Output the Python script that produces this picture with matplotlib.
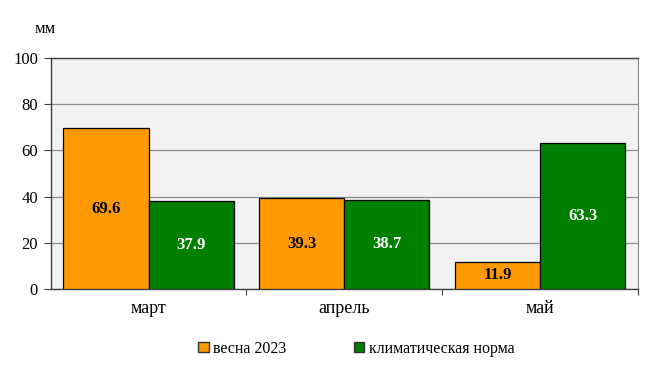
import numpy as np
import matplotlib.pyplot as plt
from matplotlib.patches import Patch

months = ['март', 'апрель', 'май']
spring_2023 = [69.6, 39.3, 11.9]
norm = [37.9, 38.7, 63.3]
yticks = [0, 20, 40, 60, 80, 100]

plt.rcParams['font.family'] = ['Liberation Serif', 'DejaVu Serif']

fig = plt.figure(figsize=(6.49, 3.71), dpi=100)
ax = fig.add_axes([0.078, 0.221, 0.905, 0.6227])
ax.set_facecolor('#F2F2F2')

x = np.arange(len(months))
w = 0.435
orange = '#FF9900'
green = '#008000'

b1 = ax.bar(x - w / 2, spring_2023, w, color=orange, edgecolor='black', linewidth=0.9, zorder=3)
b2 = ax.bar(x + w / 2, norm, w, color=green, edgecolor='black', linewidth=0.9, zorder=3)

for rect, v in zip(b1, spring_2023):
    ax.text(rect.get_x() + rect.get_width() / 2, v / 2, f'{v:.1f}', ha='center', va='center',
            fontsize=12, fontweight='bold', color='black', zorder=4)
for rect, v in zip(b2, norm):
    ax.text(rect.get_x() + rect.get_width() / 2, v / 2, f'{v:.1f}', ha='center', va='center',
            fontsize=12, fontweight='bold', color='white', zorder=4)

ax.set_xlim(-0.5, 2.5)
ax.set_ylim(0, 100)
ax.set_yticks(yticks)
ax.set_yticklabels([str(t) for t in yticks], fontsize=12)
ax.yaxis.grid(True, color='#8C8C8C', linewidth=0.9, zorder=1)
ax.tick_params(axis='y', length=5, width=0.8, color='#404040', pad=4)

ax.set_xticks(x)
ax.set_xticklabels(months, fontsize=13)
ax.tick_params(axis='x', length=0, pad=8)
ax.set_xticks([0.5, 1.5, 2.5], minor=True)
ax.tick_params(axis='x', which='minor', length=4, width=0.8, color='#404040')

for side in ['left', 'bottom', 'top']:
    ax.spines[side].set_color('#404040')
    ax.spines[side].set_linewidth(1.0)
ax.spines['right'].set_color('#8C8C8C')

fig.text(0.070, 0.922, 'мм', fontsize=12, ha='center', va='center')

handles = [Patch(facecolor=orange, edgecolor='#333333', label='весна 2023'),
           Patch(facecolor=green, edgecolor='#333333', label='климатическая норма')]
fig.legend(handles=handles, loc='center', bbox_to_anchor=(0.549, 0.06), ncol=2, frameon=False,
           fontsize=11.5, handlelength=0.65, handleheight=0.65, handletextpad=0.3, columnspacing=4.2)

fig.savefig('out.png', dpi=100)
